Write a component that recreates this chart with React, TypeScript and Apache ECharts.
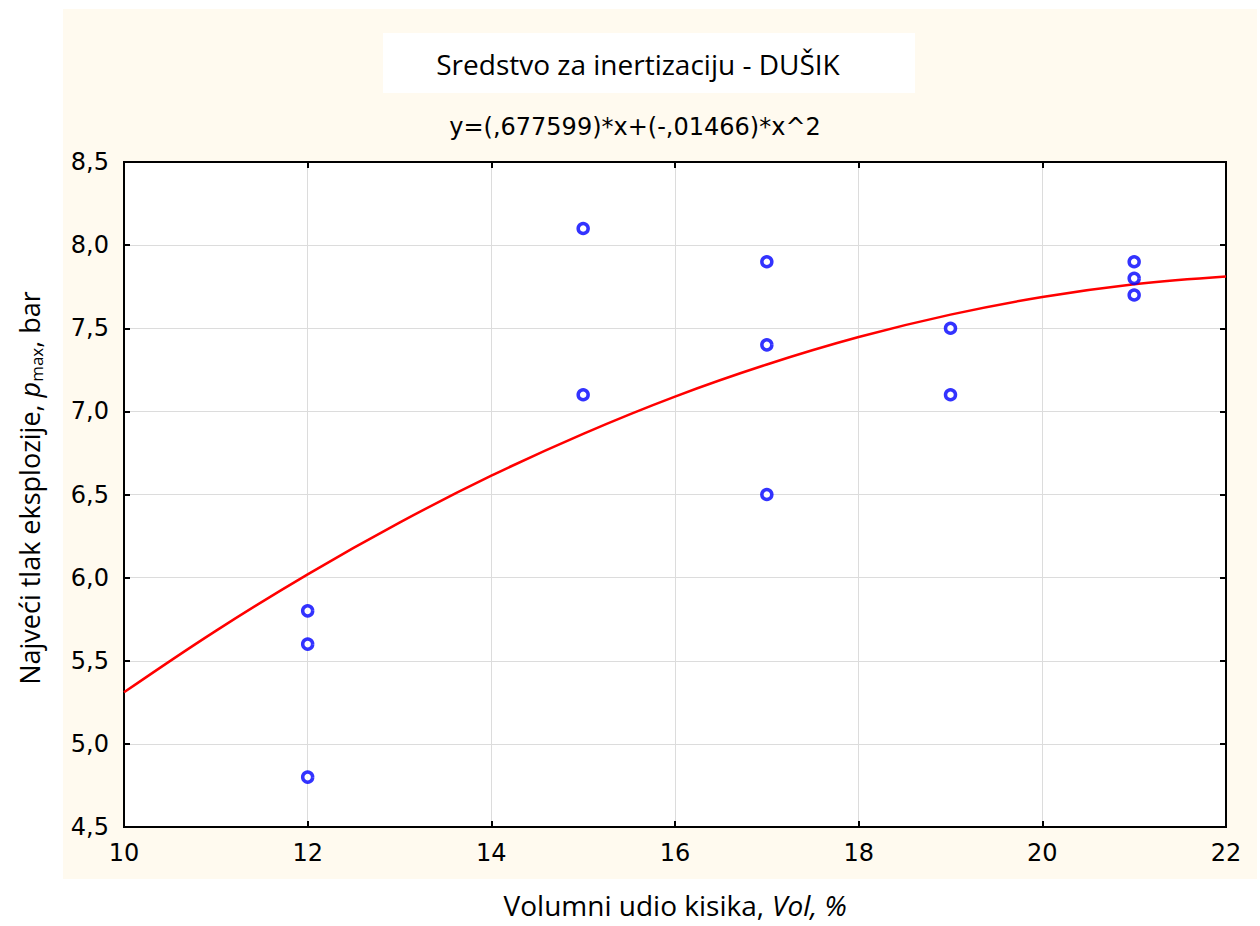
import React, { useEffect, useRef } from "react";
import * as echarts from "echarts";

// Measured points
const pointsX = [12, 12, 12, 15, 15, 17, 17, 17, 19, 19, 21, 21, 21];
const pointsY = [5.8, 5.6, 4.8, 8.1, 7.1, 7.9, 7.4, 6.5, 7.5, 7.1, 7.9, 7.8, 7.7];

// Fitted curve at each integer x
const fitX = [10, 11, 12, 13, 14, 15, 16, 17, 18, 19, 20, 21, 22];
const fitY = [5.31, 5.68, 6.02, 6.331, 6.613, 6.865, 7.089, 7.282, 7.447, 7.582, 7.688, 7.765, 7.812];

const titleText = "Sredstvo za inertizaciju - DUŠIK";
const equationText = "y=(,677599)*x+(-,01466)*x^2";
const xNamePlain = "Volumni udio kisika,";
const xNameItalic = "Vol, %";

const tickFont = "DejaVu Sans";
const textFont = "Open Sans";

export default function App() {
  const ref = useRef<HTMLDivElement>(null);
  useEffect(() => {
    if (!ref.current) return;
    const chart = echarts.init(ref.current, null, { renderer: "svg" });
    const axisLine = { show: true, onZero: false, lineStyle: { color: "#000", width: 2 } };
    const axisTick = { show: true, inside: true, length: 6, lineStyle: { color: "#000", width: 2 } };
    const labelStyle = { fontSize: 24, color: "#000", fontFamily: tickFont };
    chart.setOption({
      animation: false,
      backgroundColor: "#fff",
      grid: {
        left: 124,
        right: 34,
        top: 162,
        bottom: 99,
        show: true,
        backgroundColor: "#fff",
        borderColor: "#000",
        borderWidth: 2,
      },
      xAxis: [
        {
          type: "value",
          min: 10,
          max: 22,
          interval: 2,
          position: "bottom",
          axisLine,
          axisTick,
          axisLabel: { ...labelStyle, margin: 14 },
          splitLine: { show: true, lineStyle: { color: "#dcdcdc", width: 1 } },
        },
        {
          type: "value",
          min: 10,
          max: 22,
          interval: 2,
          position: "top",
          axisLine,
          axisTick,
          axisLabel: { show: false },
          splitLine: { show: false },
        },
      ],
      yAxis: [
        {
          type: "value",
          min: 4.5,
          max: 8.5,
          interval: 0.5,
          position: "left",
          axisLine,
          axisTick,
          axisLabel: {
            ...labelStyle,
            margin: 15,
            formatter: (v: number) => v.toFixed(1).replace(".", ","),
          },
          splitLine: { show: true, lineStyle: { color: "#dcdcdc", width: 1 } },
        },
        {
          type: "value",
          min: 4.5,
          max: 8.5,
          interval: 0.5,
          position: "right",
          axisLine,
          axisTick,
          axisLabel: { show: false },
          splitLine: { show: false },
        },
      ],
      series: [
        {
          type: "line",
          xAxisIndex: 0,
          yAxisIndex: 0,
          data: fitX.map((x, i) => [x, fitY[i]]),
          smooth: 0.4,
          showSymbol: false,
          lineStyle: { color: "#ff0000", width: 2.5 },
          z: 3,
        },
        {
          type: "scatter",
          xAxisIndex: 0,
          yAxisIndex: 0,
          data: pointsX.map((x, i) => [x, pointsY[i]]),
          symbol: "circle",
          symbolSize: 10,
          itemStyle: { color: "#fff", borderColor: "#0000ff", borderWidth: 3.5 },
          z: 4,
        },
      ],
      graphic: [
        {
          type: "rect",
          z: -1,
          shape: { x: 63, y: 9, width: 1194, height: 870 },
          style: { fill: "#fffaef" },
        },
        {
          type: "rect",
          z: -1,
          shape: { x: 383, y: 33, width: 532, height: 60 },
          style: { fill: "#ffffff" },
        },
        {
          type: "text",
          x: 638,
          y: 64,
          style: {
            text: titleText,
            font: `28px "${textFont}"`,
            fill: "#000",
            align: "center",
            verticalAlign: "middle",
          },
        },
        {
          type: "text",
          x: 635,
          y: 127,
          style: {
            text: equationText,
            font: `24px "${tickFont}"`,
            fill: "#000",
            align: "center",
            verticalAlign: "middle",
          },
        },
        {
          type: "text",
          x: 764,
          y: 905,
          style: {
            text: xNamePlain,
            font: `28px "${textFont}"`,
            fill: "#000",
            align: "right",
            verticalAlign: "middle",
          },
        },
        {
          type: "text",
          x: 772,
          y: 905,
          style: {
            text: xNameItalic,
            font: `italic 28px "${textFont}"`,
            fill: "#000",
            align: "left",
            verticalAlign: "middle",
          },
        },
        {
          type: "text",
          x: 29,
          y: 488,
          rotation: Math.PI / 2,
          style: {
            text: "{n|Najveći tlak eksplozije, }{i|p}{s|max}{n|, bar}",
            align: "center",
            verticalAlign: "middle",
            rich: {
              n: { fontSize: 27, fontFamily: textFont, color: "#000", lineHeight: 32 },
              i: { fontSize: 27, fontFamily: textFont, fontStyle: "italic", color: "#000", lineHeight: 32 },
              s: { fontSize: 17, fontFamily: textFont, color: "#000", verticalAlign: "bottom", lineHeight: 32 },
            },
          },
        },
      ],
    });
    return () => chart.dispose();
  }, []);
  return (
    <div
      ref={ref}
      style={{ position: "absolute", left: 0, top: 0, width: 1260, height: 926 }}
    />
  );
}
